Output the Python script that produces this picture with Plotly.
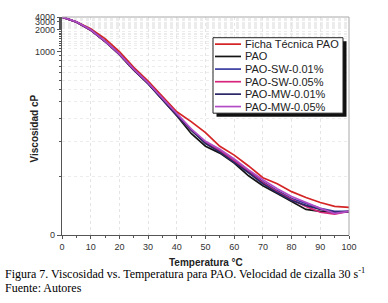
import numpy as np
import plotly.graph_objects as go

# ---------------- data ----------------
temperature = [0, 5, 10, 15, 20, 25, 30, 35, 40, 45, 50, 55, 60, 65, 70, 75, 80, 85, 90, 95, 100]

ficha_tecnica = [4000, 2950, 2100, 1510, 1000, 684, 489, 338, 237, 183, 132, 91.5, 77.6, 62.8, 48.7, 41.2, 32.3, 26.4, 21.9, 18.6, 17.8]
pao = [4000, 2930, 1980, 1380, 930, 640, 460, 318, 215, 128.5, 91.5, 80.6, 66.6, 51.1, 38.9, 30.3, 22.8, 16.2, 14.7, 14.0, 14.0]
pao_sw_001 = [4000, 2930, 2000, 1390, 940, 650, 467, 323, 220, 145, 98, 85.1, 70.6, 56.8, 43.6, 33.4, 25.5, 21.1, 17.0, 14.7, 14.7]
pao_sw_005 = [4000, 2900, 1980, 1380, 935, 648, 465, 320, 218, 143, 98, 83.6, 69.3, 55.6, 42.4, 32.3, 24.6, 18.6, 14.0, 12.6, 14.7]
pao_mw_001 = [4000, 2920, 1990, 1385, 938, 645, 462, 318, 216, 142, 96, 82.1, 67.9, 54.5, 41.2, 31.3, 23.7, 19.4, 16.2, 14.0, 14.7]
pao_mw_005 = [4000, 2950, 2010, 1400, 945, 655, 470, 326, 224, 148, 100, 86.7, 72.0, 57.9, 46.1, 35.5, 27.4, 21.9, 17.0, 13.25, 14.7]

series_names = ["Ficha Técnica PAO", "PAO", "PAO-SW-0.01%", "PAO-SW-0.05%", "PAO-MW-0.01%", "PAO-MW-0.05%"]
series_values = [ficha_tecnica, pao, pao_sw_001, pao_sw_005, pao_mw_001, pao_mw_005]
series_colors = ["#d42424", "#151515", "#3b3ba0", "#d6267c", "#2c2766", "#b24cc6"]

x_tick_vals = list(range(0, 101, 10))
y_major_vals = [0, 1000, 2000, 3000, 4000]
y_major_text = ["0", "1000", "2000", "3000", "4000"]
y_minor_vals = [50] + [v for v in range(100, 4001, 100) if v % 1000 != 0]

y_title = "Viscosidad cP"
x_title = "Temperatura °C"
caption_1 = "Figura 7. Viscosidad vs. Temperatura para PAO. Velocidad de cizalla 30 s<sup>-1</sup>"
caption_2 = "Fuente: Autores"

# ---------------- custom (viscosity-chart-like) y scale ----------------
SCALE_V = np.array([0, 50, 100, 200, 500, 1000, 2000, 3000, 4000], dtype=float)
SCALE_P = np.array([0, 59, 95, 118, 157, 186, 208, 216.5, 221], dtype=float)


def yscale(v):
    u = np.log10(np.asarray(v, dtype=float) + 30.0)
    return np.interp(u, np.log10(SCALE_V + 30.0), SCALE_P)


# plot area in pixels (for decoration placement)
PX_L, PX_R, PX_T, PX_B = 62, 349, 14, 235
W, H = 388, 303


def px(xp):
    return (xp - PX_L) / (PX_R - PX_L)


def py(yp):
    return (PX_B - yp) / (PX_B - PX_T)


fig = go.Figure()
for name, vals, col in zip(series_names, series_values, series_colors):
    fig.add_trace(go.Scatter(
        x=temperature, y=yscale(vals), mode="lines", name=name,
        line=dict(color=col, width=1.7), showlegend=False,
    ))

fig.update_layout(
    width=W, height=H,
    margin=dict(l=PX_L, r=W - PX_R, t=PX_T, b=H - PX_B),
    paper_bgcolor="white", plot_bgcolor="white",
    font=dict(family="Liberation Sans, Arial, sans-serif", size=9, color="#333333"),
    xaxis=dict(
        range=[0, 100], tickmode="array", tickvals=x_tick_vals,
        ticks="outside", ticklen=3, tickcolor="#555555", tickwidth=1,
        showline=True, linecolor="#555555", linewidth=1.2,
        showgrid=True, gridcolor="#e4e4e4", griddash="dot", gridwidth=1,
        zeroline=False, tickfont=dict(size=9, color="#333333"),
        minor=dict(dtick=5, tick0=0, ticks="outside", ticklen=2, tickcolor="#555555", showgrid=False),
    ),
    yaxis=dict(
        range=[0, 221], tickmode="array",
        tickvals=list(yscale(y_major_vals)), ticktext=y_major_text,
        ticks="outside", ticklen=4, tickcolor="#555555", tickwidth=1,
        showline=True, linecolor="#555555", linewidth=1.2,
        showgrid=False, zeroline=False, tickfont=dict(size=9, color="#333333"),
        minor=dict(tickmode="array", tickvals=list(yscale(y_minor_vals)), ticks="outside",
                   ticklen=2, tickcolor="#555555", showgrid=True, gridcolor="#ececec",
                   griddash="dot", gridwidth=1),
    ),
)

shapes = []
# top / right frame (light grey)
shapes.append(dict(type="line", xref="paper", yref="paper", x0=0, x1=1, y0=1, y1=1,
                   line=dict(color="#a8a8a8", width=1)))
shapes.append(dict(type="line", xref="paper", yref="paper", x0=1, x1=1, y0=0, y1=1,
                   line=dict(color="#a8a8a8", width=1)))
# legend shadow + box
shapes.append(dict(type="rect", xref="paper", yref="paper",
                   x0=px(216.5), x1=px(346.5), y0=py(115), y1=py(38.5),
                   fillcolor="#111111", line=dict(width=0)))
shapes.append(dict(type="rect", xref="paper", yref="paper",
                   x0=px(213), x1=px(343), y0=py(111.5), y1=py(35),
                   fillcolor="white", line=dict(color="#222222", width=1)))

annotations = []
row_y = [41.5, 54, 66.8, 79.6, 92.2, 104.8]
for name, col, ry in zip(series_names, series_colors, row_y):
    shapes.append(dict(type="line", xref="paper", yref="paper",
                       x0=px(215), x1=px(241), y0=py(ry), y1=py(ry),
                       line=dict(color=col, width=1.7)))
    annotations.append(dict(text=name, xref="paper", yref="paper", x=px(242.5), y=py(ry),
                            xanchor="left", yanchor="middle", showarrow=False,
                            font=dict(family="Liberation Sans, Arial, sans-serif", size=11, color="#222222")))

annotations.append(dict(text="<b>" + y_title + "</b>", xref="paper", yref="paper",
                        x=px(34), y=py(127), textangle=-90, xanchor="center", yanchor="middle",
                        showarrow=False,
                        font=dict(family="Liberation Sans, Arial, sans-serif", size=10, color="#222222")))
annotations.append(dict(text="<b>" + x_title + "</b>", xref="paper", yref="paper",
                        x=px(205.5), y=py(262.5), xanchor="center", yanchor="middle",
                        showarrow=False,
                        font=dict(family="Liberation Sans, Arial, sans-serif", size=10, color="#222222")))
annotations.append(dict(text=caption_1, xref="paper", yref="paper",
                        x=px(3), y=py(274), xanchor="left", yanchor="middle", showarrow=False,
                        font=dict(family="Liberation Serif, Times New Roman, serif", size=12, color="#000000")))
annotations.append(dict(text=caption_2, xref="paper", yref="paper",
                        x=px(3), y=py(289), xanchor="left", yanchor="middle", showarrow=False,
                        font=dict(family="Liberation Serif, Times New Roman, serif", size=12, color="#000000")))

fig.update_layout(shapes=shapes, annotations=annotations)
fig.write_html("out.html",
               config={"displayModeBar": False},
               post_script="document.body.style.margin='0';document.body.style.padding='0';")
